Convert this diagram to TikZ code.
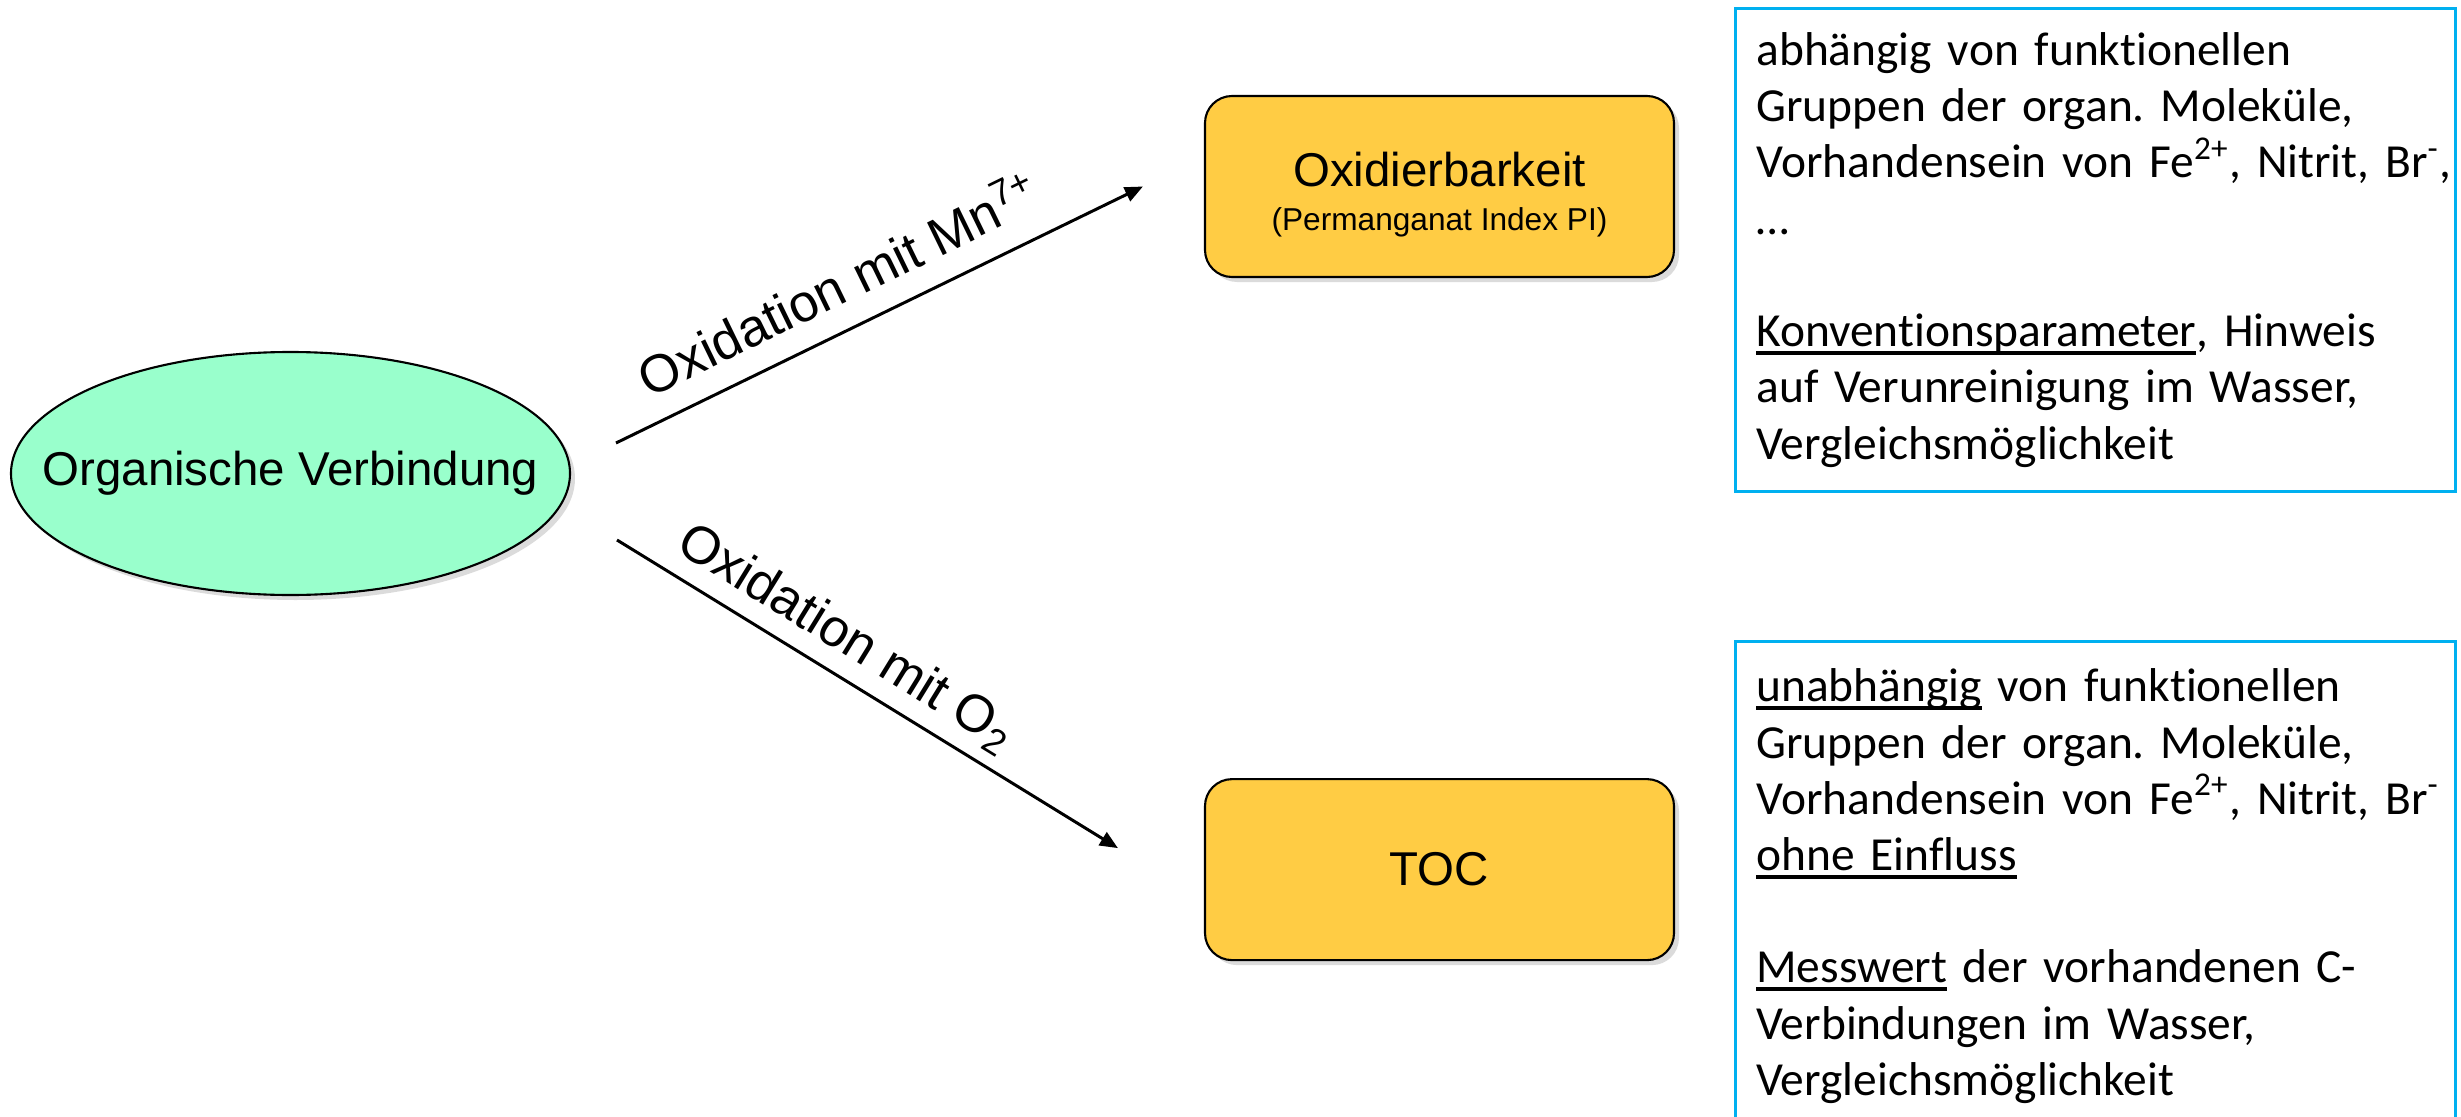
\documentclass[tikz,border=0pt]{standalone}
\usepackage{fontspec}
\usepackage{tikz}
\usepackage{xcolor}
\usetikzlibrary{arrows.meta,positioning,shapes.geometric,shadows}
\setmainfont{Liberation Sans}
\newfontfamily\calibri[Ligatures={NoCommon}]{Carlito}
\definecolor{mint}{RGB}{153,255,204}
\definecolor{gold}{RGB}{255,204,68}
\definecolor{infoblue}{RGB}{0,176,240}
\newcommand{\ulw}[1]{\leavevmode\setbox0\hbox{#1}\rlap{\rule[-2.4pt]{\wd0}{1.2pt}}\box0\relax}
\frenchspacing

\begin{document}
\begin{tikzpicture}[
    node distance=1.47cm and 0.6cm,
    stoff/.style={ellipse,draw,line width=0.6pt,fill=mint,minimum width=5.59cm,minimum height=2.43cm,inner xsep=-0.6cm,inner ysep=0pt,font=\fontsize{13.5}{16}\selectfont,drop shadow={shadow xshift=0.05cm,shadow yshift=-0.05cm,fill=black!14,opacity=1}},
    box/.style={rectangle,rounded corners=0.27cm,draw,line width=0.6pt,fill=gold,minimum width=4.69cm,minimum height=1.81cm,align=center,font=\fontsize{13.5}{12.5}\selectfont,drop shadow={shadow xshift=0.05cm,shadow yshift=-0.05cm,fill=black!14,opacity=1}},
    info/.style={rectangle,draw=infoblue,line width=0.8pt,anchor=north west,text width=6.78cm,inner xsep=0.21cm,inner ysep=0.1cm,minimum height=4.83cm,align=left,font=\calibri\fontsize{13.5}{16}\selectfont},
    arrow/.style={-{Triangle[length=0.18cm,width=0.15cm]},line width=0.85pt},
    schrift/.style={sloped,anchor=south,inner xsep=0pt,text depth=0pt,font=\fontsize{15}{18}\selectfont}
  ]
  \useasboundingbox (0,-11.17) rectangle (24.61,0);
  \node[stoff] (org) at (2.905,-4.735) {Organische Verbindung};
  \node[box] (oxb) at (14.395,-1.865) {Oxidierbarkeit\rule{0pt}{0.5cm}\\{\fontsize{9}{12.5}\selectfont (Permanganat Index PI)}};
  \node[box,below=5.0cm of oxb] (toc) {TOC};
  \node[info] (pi) at (17.34,-0.07) {abhängig von funktionellen\\Gruppen der organ. Moleküle,\\\mbox{Vorhandensein von Fe\textsuperscript{2+}, Nitrit, Br\textsuperscript{-},}\\…\\[16pt]\ulw{Konventionsparameter}, Hinweis\\auf Verunreinigung im Wasser,\\Vergleichsmöglichkeit};
  \node[info,below=1.47cm of pi,minimum height=4.9cm] (tocinfo) {\ulw{unabhängig} von funktionellen\\Gruppen der organ. Moleküle,\\\mbox{Vorhandensein von Fe\textsuperscript{2+}, Nitrit, Br\textsuperscript{-}}\\\ulw{ohne Einfluss}\\[16pt]\ulw{Messwert} der vorhandenen C-\\Verbindungen im Wasser,\\Vergleichsmöglichkeit};
  \coordinate (mnA) at ([shift={(3.255,0.305)}]org.center);
  \coordinate (mnB) at ([xshift=-0.61cm]oxb.west);
  \coordinate (oA) at ([shift={(3.265,-0.665)}]org.center);
  \coordinate (oB) at ([shift={(-0.86,0.215)}]toc.west);
  \draw[arrow] (mnA) -- node[schrift,pos=0.46,inner ysep=0.24cm] {Oxidation mit Mn\textsuperscript{7+}} (mnB);
  \draw[arrow] (oA) -- node[schrift,pos=0.42,inner ysep=0.2cm] {Oxidation mit O\textsubscript{2}} (oB);
\end{tikzpicture}
\end{document}
